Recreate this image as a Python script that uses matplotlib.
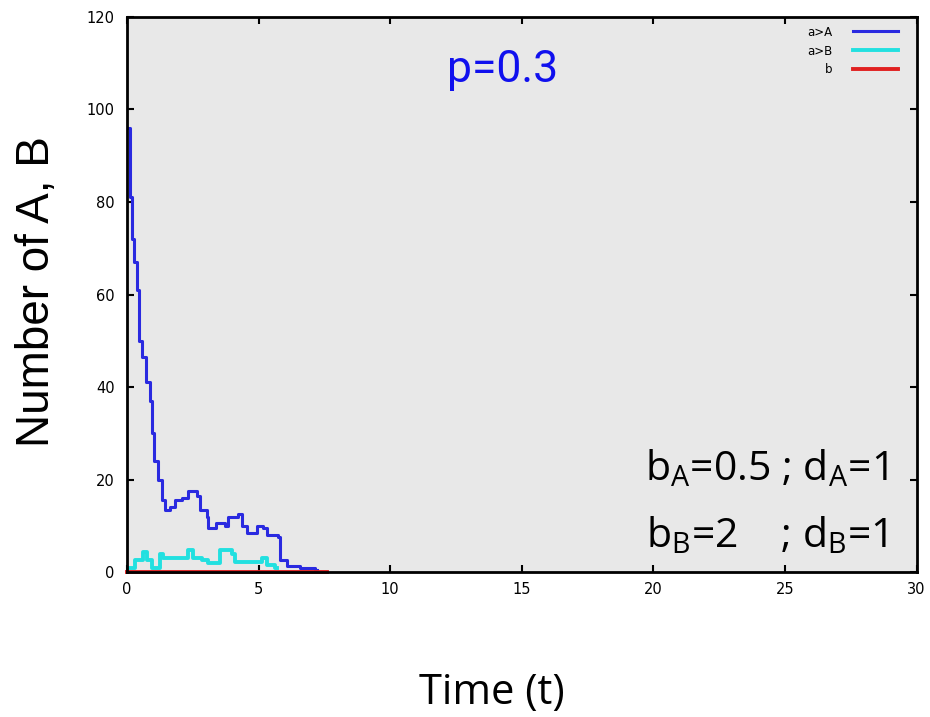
import numpy as np
import matplotlib.pyplot as plt

# values
t_A = [0, 0.05, 0.11, 0.18, 0.27, 0.37, 0.47, 0.58, 0.72, 0.87, 0.94, 1.04, 1.19,
       1.32, 1.44, 1.63, 1.82, 2.08, 2.32, 2.64, 2.77, 3.02, 3.09, 3.37, 3.72, 3.85,
       4.23, 4.35, 4.54, 4.92, 5.17, 5.30, 5.74, 5.81, 6.06, 6.57, 7.14, 7.2]
n_A = [96, 96, 81, 72, 67, 61, 50, 46.5, 41, 37, 30, 24, 20,
       15.5, 13.5, 14, 15.5, 16, 17.5, 16.5, 13.5, 12, 9.5, 10.5, 10, 12,
       12.5, 10, 8.5, 10, 9.5, 8, 7.5, 2.5, 1.2, 0.8, 0.5, 0.5]

t_B = [0, 0.05, 0.3, 0.62, 0.75, 0.94, 1.25, 1.37, 2.0, 2.33, 2.52, 2.83, 3.09,
       3.53, 3.97, 4.1, 4.98, 5.11, 5.3, 5.62, 5.7]
n_B = [0.8, 0.8, 2.6, 4.4, 2.6, 0.8, 4, 3, 3, 4.8, 3, 2.6, 2,
       4.8, 4, 2.2, 2.2, 3, 1.6, 0.8, 0.8]

t_b = [0, 7.6]
n_b = [0, 0]

fig = plt.figure(figsize=(9.3, 7.17), dpi=100)
ax = fig.add_axes([0.1366, 0.2022, 0.849, 0.7741])
ax.set_facecolor('#e8e8e8')

ax.plot(t_A, n_A, color='#2a2ae0', lw=2.2, drawstyle='steps-post', label='a>A')
ax.plot(t_B, n_B, color='#22e0e0', lw=2.8, drawstyle='steps-post', label='a>B')
ax.plot(t_b, n_b, color='#e02020', lw=2.8, label='b', clip_on=False)

ax.set_xlim(0, 30)
ax.set_ylim(0, 120)
ax.set_xticks(np.arange(0, 31, 5))
ax.set_yticks(np.arange(0, 121, 20))
ax.tick_params(direction='in', top=True, right=True, length=5, width=1.5,
               labelsize=10.5)
ax.tick_params(axis='y', pad=9)
ax.tick_params(axis='x', pad=7)
for s in ax.spines.values():
    s.set_linewidth(2)

ax.legend(loc='upper right', bbox_to_anchor=(0.982, 0.993), frameon=False,
          markerfirst=False, fontsize=8.5, handlelength=3.8, handletextpad=1.7,
          labelspacing=0.5, borderaxespad=0)

fnt = 'Open Sans'
arial = 'Roboto'
ax.text(0.476, 0.905, 'p=0.3', transform=ax.transAxes, color='#1010ee',
        fontsize=32, family=arial, ha='center', va='center')
ax.text(0.963, 0.184, r'b$_\mathregular{A}$=0.5 ; d$_\mathregular{A}$=1',
        transform=ax.transAxes, fontsize=29.5, family=fnt, ha='right', va='center')
ax.text(0.963, 0.063, r'b$_\mathregular{B}$=2    ; d$_\mathregular{B}$=1',
        transform=ax.transAxes, fontsize=29.5, family=fnt, ha='right', va='center')

fig.text(0.04, 0.593, 'Number of A, B', rotation=90, fontsize=33,
         family='Liberation Sans', ha='center', va='center')
fig.text(0.529, 0.033, 'Time (t)', fontsize=30, family=fnt, ha='center', va='center')

fig.savefig('out.png', dpi=100)
